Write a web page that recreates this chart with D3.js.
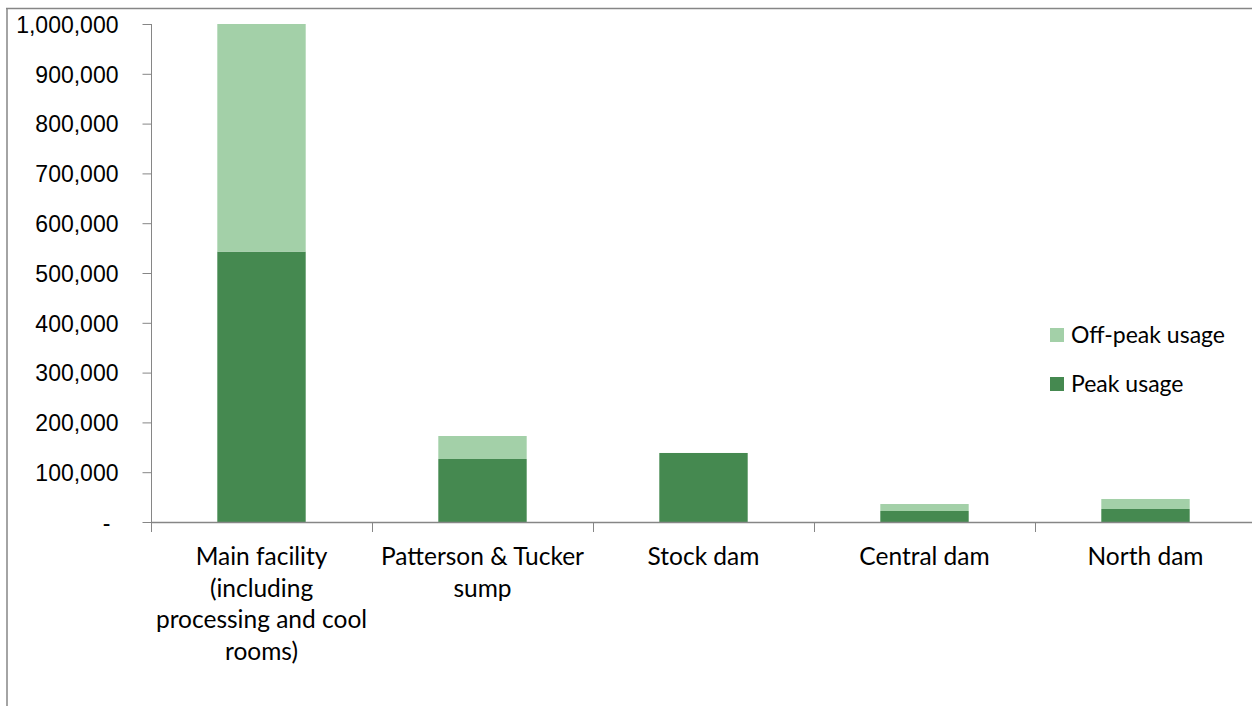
<!DOCTYPE html>
<html>
<head>
<meta charset="utf-8">
<script src="https://cdn.jsdelivr.net/npm/d3@7"></script>
<style>
  html, body { margin: 0; padding: 0; background: #fff; }
  svg { display: block; font-family: Lato, "Open Sans", sans-serif; }
</style>
</head>
<body>
<svg id="chart" width="1252" height="706"></svg>
<script>
// Water usage by site, split into peak and off-peak
const categories = [
  "Main facility (including processing and cool rooms)",
  "Patterson & Tucker sump",
  "Stock dam",
  "Central dam",
  "North dam"
];
const peakUsage    = [543000, 126500, 138600, 22100, 26100];
const offPeakUsage = [457000, 46200, 0, 14000, 20100];
const yTicks = [0, 100000, 200000, 300000, 400000, 500000, 600000, 700000, 800000, 900000, 1000000];
const seriesNames = ["Off-peak usage", "Peak usage"];

const colors = { peak: "#458950", offPeak: "#a3d0a8", axis: "#868686", text: "#000" };

const svg = d3.select("#chart");
const W = 1252, H = 706;

// outer chart frame (top and left edges visible)
svg.append("line").attr("x1", 6).attr("x2", W).attr("y1", 8.5).attr("y2", 8.5)
  .attr("stroke", colors.axis).attr("stroke-width", 1.5);
svg.append("line").attr("x1", 7).attr("x2", 7).attr("y1", 8).attr("y2", H)
  .attr("stroke", colors.axis).attr("stroke-width", 1.5);

const plot = { left: 151, right: 1256, top: 24, bottom: 522 };

const x = d3.scaleBand().domain(categories)
  .range([plot.left, plot.right]).paddingInner(0.6).paddingOuter(0.3);
const y = d3.scaleLinear().domain([0, 1000000]).range([plot.bottom, plot.top]);

const rows = categories.map((c, i) => ({ cat: c, peak: peakUsage[i], offPeak: offPeakUsage[i] }));
const stacked = d3.stack().keys(["peak", "offPeak"])(rows);

// bars
const g = svg.append("g");
g.selectAll("g.series").data(stacked).join("g")
  .attr("class", "series")
  .attr("fill", d => d.key === "peak" ? colors.peak : colors.offPeak)
  .selectAll("rect").data(d => d).join("rect")
  .attr("x", d => x(d.data.cat))
  .attr("width", x.bandwidth())
  .attr("y", d => y(d[1]))
  .attr("height", d => y(d[0]) - y(d[1]));

// y axis
const fmt = d3.format(",");
const yAxis = svg.append("g").attr("transform", `translate(${plot.left + 0.5},0)`)
  .call(d3.axisLeft(y).tickValues(yTicks).tickSize(9).tickPadding(0).tickFormat(() => ""));
yAxis.select(".domain").attr("stroke", colors.axis).attr("d", `M0,${plot.top}V${plot.bottom}`);
yAxis.selectAll(".tick line").attr("stroke", colors.axis);
yAxis.selectAll(".tick").append("text")
  .attr("x", d => d === 0 ? -41 : -33)
  .attr("dy", "0.36em")
  .attr("text-anchor", "end")
  .attr("fill", colors.text)
  .attr("font-size", 23)
  .text(d => d === 0 ? "-" : fmt(d));

// x axis with ticks at category boundaries
const step = x.step();
const bounds = d3.range(categories.length + 1).map(i => plot.left + i * step);
svg.append("line").attr("x1", plot.left).attr("x2", plot.right)
  .attr("y1", plot.bottom + 0.5).attr("y2", plot.bottom + 0.5)
  .attr("stroke", colors.axis).attr("stroke-width", 1.5);
svg.selectAll("line.xtick").data(bounds).join("line")
  .attr("class", "xtick")
  .attr("x1", d => Math.round(d) + 0.5).attr("x2", d => Math.round(d) + 0.5)
  .attr("y1", plot.bottom).attr("y2", plot.bottom + 10)
  .attr("stroke", colors.axis);

// category labels, wrapped to the category width
const labelFont = 24.5, lineGap = 31.7, maxWidth = step * 0.97;
const labels = svg.selectAll("text.cat").data(categories).join("text")
  .attr("class", "cat")
  .attr("text-anchor", "middle")
  .attr("font-size", labelFont)
  .attr("fill", colors.text)
  .attr("transform", d => `translate(${x(d) + x.bandwidth() / 2},565)`);
labels.each(function (d) {
  const t = d3.select(this);
  const words = d.split(" ");
  let line = [], lineNo = 0;
  let tspan = t.append("tspan").attr("x", 0).attr("y", 0);
  for (const w of words) {
    line.push(w);
    tspan.text(line.join(" "));
    if (tspan.node().getComputedTextLength() > maxWidth && line.length > 1) {
      line.pop();
      tspan.text(line.join(" "));
      line = [w];
      lineNo++;
      tspan = t.append("tspan").attr("x", 0).attr("y", lineNo * lineGap).text(w);
    }
  }
});

// legend
const legend = svg.append("g").attr("transform", "translate(1050,328)");
const legendItems = legend.selectAll("g").data(seriesNames).join("g")
  .attr("transform", (d, i) => `translate(0,${i * 49})`);
legendItems.append("rect").attr("width", 14).attr("height", 14)
  .attr("fill", d => d === "Peak usage" ? colors.peak : colors.offPeak);
legendItems.append("text").attr("x", 21).attr("y", 7).attr("dy", "0.36em")
  .attr("font-size", 23).attr("fill", colors.text).text(d => d);
</script>
</body>
</html>
